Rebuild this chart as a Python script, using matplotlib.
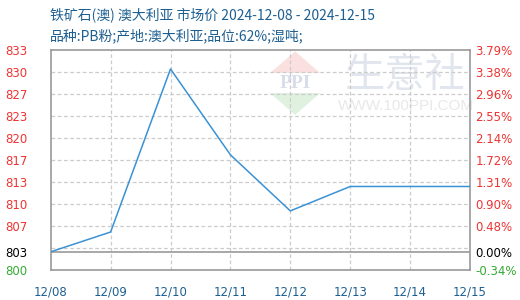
import matplotlib
matplotlib.use("Agg")
import matplotlib.pyplot as plt
from matplotlib.patches import Polygon

plt.rcParams['font.family'] = ['Noto Sans CJK SC', 'DejaVu Sans']

# ---- data ----
dates = ["12/08", "12/09", "12/10", "12/11", "12/12", "12/13", "12/14", "12/15"]
prices = [802.8, 805.8, 830.5, 817.5, 809.0, 812.7, 812.7, 812.7]
base_price = 802.8
base_label = "803"
grid_values = [800 + i * 10 / 3 for i in range(11)]
left_labels = ["800", "", "807", "810", "813", "817", "820", "823", "827", "830", "833"]
right_labels = ["-0.34%", "", "0.48%", "0.90%", "1.31%", "1.72%", "2.14%", "2.55%", "2.96%", "3.38%", "3.79%"]
base_pct_label = "0.00%"
title1 = "铁矿石(澳) 澳大利亚 市场价 2024-12-08 - 2024-12-15"
title2 = "品种:PB粉;产地:澳大利亚;品位:62%;湿吨;"

RED = "#ee3333"
GREEN = "#33aa33"
BLUE_TXT = "#1d5f91"
LINE = "#3a92d4"
FRAME = "#999999"
GRID = "#cccccc"

fig = plt.figure(figsize=(5.2, 3.0), dpi=100)
ax = fig.add_axes([50.7 / 520, 1 - 270.3 / 300, (470 - 50.7) / 520, (270.3 - 50.3) / 300])
ymin, ymax = grid_values[0], grid_values[-1]
x = list(range(len(dates)))

# watermark
ax.text(0.845, 0.885, "生意社", transform=ax.transAxes, fontsize=29, color="#e1e5ed",
        ha="center", va="center", zorder=0)
ax.text(0.847, 0.745, "WWW.100PPI.COM", transform=ax.transAxes, fontsize=11, color="#e8e8e8",
        ha="center", va="center", zorder=0, family="Liberation Sans")
cx, hw = 0.583, 0.0596
ax.add_patch(Polygon([(cx - hw, 0.897), (cx, 0.995), (cx + hw, 0.897)], closed=True,
                     transform=ax.transAxes, color="#fbe0e0", zorder=0, lw=0))
ax.add_patch(Polygon([(cx - hw, 0.806), (cx, 0.706), (cx + hw, 0.806)], closed=True,
                     transform=ax.transAxes, color="#e0f1e0", zorder=0, lw=0))
ax.text(cx, 0.851, "PPI", transform=ax.transAxes, fontsize=14, color="#d8dde9",
        ha="center", va="center", zorder=0, family="Liberation Serif", fontweight="bold")

# grid
for gv in grid_values[1:-1]:
    ax.axhline(gv, color=GRID, lw=0.9, ls=(0, (3, 2)), zorder=1)
for xi in x[1:-1]:
    ax.axvline(xi, color=GRID, lw=0.9, ls=(0, (3, 2)), zorder=1)
ax.axhline(base_price, color=FRAME, lw=1.2, zorder=2)

ax.plot(x, prices, color=LINE, lw=1.1, zorder=3)

ax.set_xlim(0, len(dates) - 1)
ax.set_ylim(ymin, ymax)
for s in ax.spines.values():
    s.set_color(FRAME)
    s.set_linewidth(1.2)

ax.set_xticks(x)
ax.set_xticklabels(dates, family="DejaVu Sans", fontsize=8.5, color=BLUE_TXT)
ax.tick_params(axis="x", length=0, pad=11)

lticks = [grid_values[0], base_price] + grid_values[2:]
llabels = [left_labels[0], base_label] + left_labels[2:]
ax.set_yticks(lticks)
ax.set_yticklabels(llabels, family="DejaVu Sans", fontsize=8.5)
ax.tick_params(axis="y", length=0, pad=33)
for lab in ax.get_yticklabels():
    lab.set_horizontalalignment("left")
cols = [GREEN, "black"] + [RED] * (len(lticks) - 2)
for lab, c in zip(ax.get_yticklabels(), cols):
    lab.set_color(c)

ax2 = ax.twinx()
ax2.set_ylim(ymin, ymax)
ax2.set_yticks(lticks)
ax2.set_yticklabels([right_labels[0], base_pct_label] + right_labels[2:], family="DejaVu Sans", fontsize=8.5)
ax2.tick_params(axis="y", length=0, pad=4)
for lab, c in zip(ax2.get_yticklabels(), cols):
    lab.set_color(c)
for s in ax2.spines.values():
    s.set_visible(False)

fig.text(50 / 520, 1 - 15 / 300, title1, fontsize=10, color=BLUE_TXT, va="center", ha="left")
fig.text(50 / 520, 1 - 36 / 300, title2, fontsize=10, color=BLUE_TXT, va="center", ha="left")

fig.savefig("out.png", dpi=100)
